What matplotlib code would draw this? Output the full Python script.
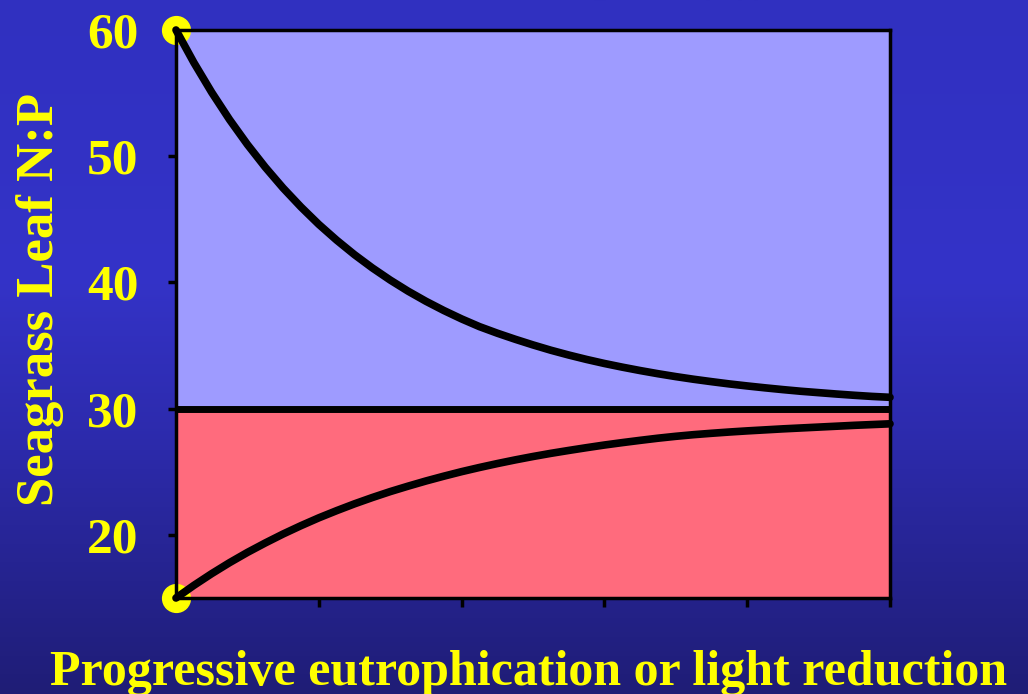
import matplotlib
matplotlib.use("Agg")
import matplotlib.pyplot as plt
import numpy as np
from matplotlib.colors import LinearSegmentedColormap

# values (x in arbitrary units, 0..5, step 0.125)
x_vals = [0, 0.125, 0.25, 0.375, 0.5, 0.625, 0.75, 0.875, 1.0, 1.125, 1.25,
          1.375, 1.5, 1.625, 1.75, 1.875, 2.0, 2.125, 2.25, 2.375, 2.5,
          2.625, 2.75, 2.875, 3.0, 3.125, 3.25, 3.375, 3.5, 3.625, 3.75,
          3.875, 4.0, 4.125, 4.25, 4.375, 4.5, 4.625, 4.75, 4.875, 5.0]
upper_np = [60, 57.42, 55.06, 52.9, 50.93, 49.13, 47.48, 45.98, 44.6, 43.35, 42.2,
            41.15, 40.19, 39.31, 38.51, 37.78, 37.11, 36.5, 35.98, 35.5, 35.05,
            34.63, 34.25, 33.9, 33.58, 33.29, 33.02, 32.77, 32.54, 32.33, 32.14,
            31.96, 31.8, 31.65, 31.51, 31.38, 31.27, 31.16, 31.06, 30.97, 30.9]
lower_np = [15, 16.0, 16.93, 17.8, 18.61, 19.36, 20.07, 20.73, 21.35, 21.92, 22.46,
            22.96, 23.43, 23.86, 24.27, 24.65, 25.01, 25.34, 25.65, 25.94, 26.21,
            26.46, 26.69, 26.91, 27.12, 27.31, 27.49, 27.66, 27.81, 27.94, 28.05,
            28.15, 28.24, 28.32, 28.4, 28.47, 28.54, 28.61, 28.68, 28.74, 28.8]
threshold = 30
y_ticks = [20, 30, 40, 50, 60]
x_ticks = [0, 1, 2, 3, 4, 5]
y_label = "Seagrass Leaf N:P"
x_label = "Progressive eutrophication or light reduction"

yellow = "#ffff00"
font = "Liberation Serif"

fig = plt.figure(figsize=(10.28, 6.94), dpi=100)

# gradient background
bg = fig.add_axes([0, 0, 1, 1], zorder=-10)
bg_cmap = LinearSegmentedColormap.from_list(
    "bg", [(0.0, "#3030c0"), (0.4, "#3433c8"), (0.65, "#2c2aaa"), (1.0, "#1f1d76")])
bg.imshow(np.linspace(0, 1, 256).reshape(-1, 1), aspect="auto", cmap=bg_cmap,
          extent=[0, 1, 0, 1], origin="upper")
bg.set_axis_off()

ax = fig.add_axes([176 / 1028, 1 - 598 / 694, (890 - 176) / 1028, (598 - 30) / 694])
ax.set_xlim(0, 5)
ax.set_ylim(15, 60)

ax.axhspan(threshold, 60, color="#9e9bff", zorder=0)
ax.axhspan(15, threshold, color="#ff6b7d", zorder=0)
ax.axhline(threshold, color="black", lw=5, zorder=2)

for ys in (upper_np, lower_np):
    ax.plot(x_vals, ys, color="black", lw=5.5, solid_capstyle="round",
            solid_joinstyle="round", zorder=4, clip_on=False)

# yellow start markers
ax.plot([x_vals[0], x_vals[0]], [upper_np[0], lower_np[0]], "o", color=yellow,
        ms=20, mec=yellow, zorder=3, clip_on=False)

for sp in ax.spines.values():
    sp.set_linewidth(2.5)
    sp.set_color("black")
    sp.set_zorder(3)

ax.set_yticks(y_ticks)
ax.set_yticklabels([str(v) for v in y_ticks])
ax.set_xticks(x_ticks)
ax.set_xticklabels([])
ax.tick_params(axis="y", direction="out", length=6, width=2.5, color="black",
               pad=21, labelcolor=yellow, labelsize=37)
ax.tick_params(axis="x", direction="out", length=6.5, width=2.5, color="black")
for lab in ax.get_yticklabels():
    lab.set_fontfamily(font)
    lab.set_fontweight("bold")

fig.text(0.039, 0.568, y_label, rotation=90, ha="center", va="center",
         color=yellow, fontsize=38, fontweight="bold", family=font)
fig.text(0.514, 0.013, x_label, ha="center", va="baseline",
         color=yellow, fontsize=36, fontweight="bold", family=font)

fig.savefig("out.png", dpi=100)
